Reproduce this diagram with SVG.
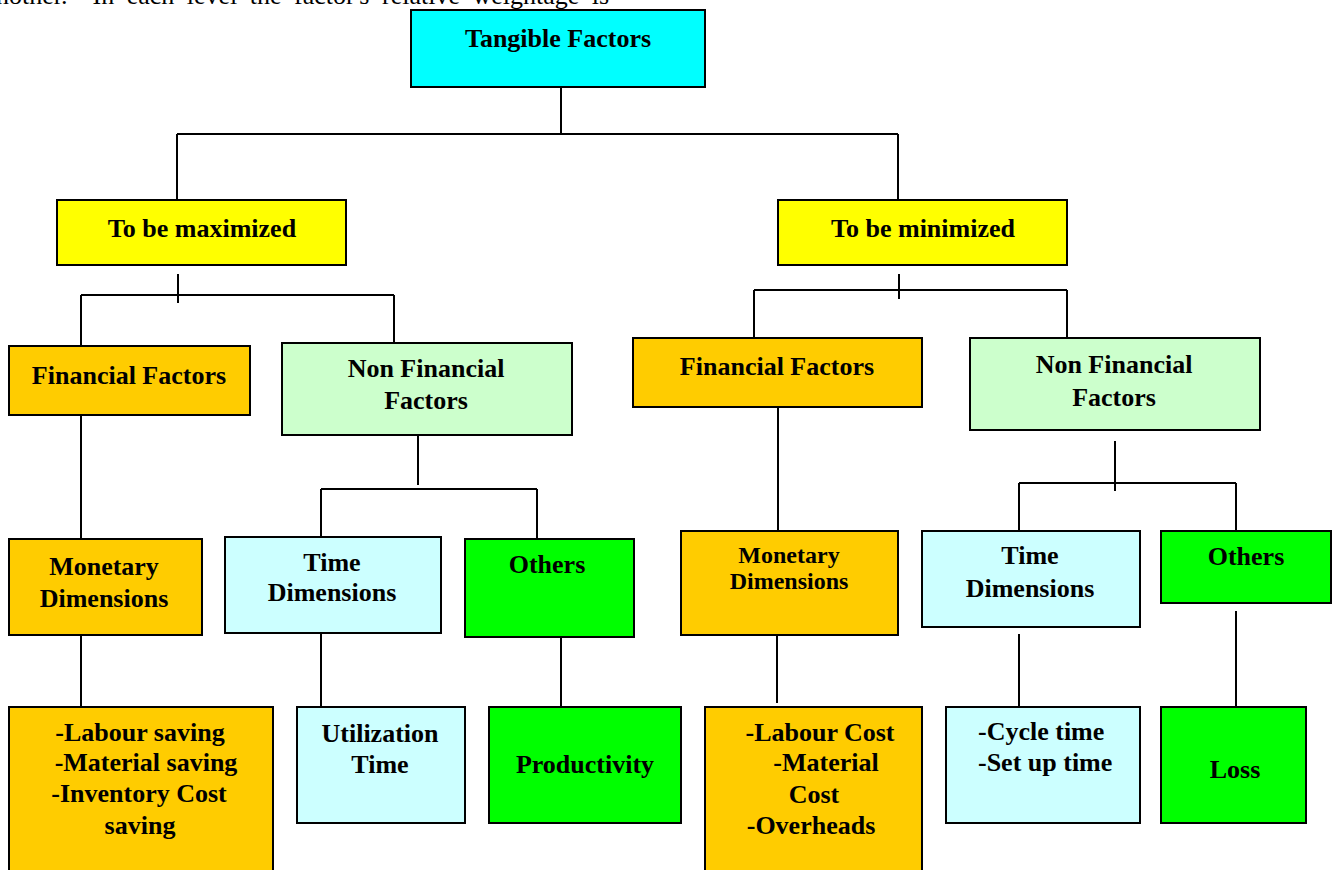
<svg xmlns="http://www.w3.org/2000/svg" width="1334" height="870" viewBox="0 0 1334 870">
<style>
.box{stroke:#000;stroke-width:2}
.t{font-family:"Liberation Serif","Times New Roman",serif;font-weight:bold;font-size:26px;fill:#000;text-anchor:middle}
.s{font-size:24px}
.l{text-anchor:start}
.cyan{fill:#00FFFF}.yel{fill:#FFFF00}.org{fill:#FFCC00}.lgr{fill:#CCFFCC}.lcy{fill:#CCFFFF}.grn{fill:#00FF00}
#connectors path{fill:none;stroke:#000;stroke-width:2}
</style>
<rect width="1334" height="870" fill="#fff"/>
<text x="-4" y="4" font-family="Liberation Serif, Times New Roman, serif" font-size="26" word-spacing="6" xml:space="preserve">nother.  In each level the factor's relative weightage is</text>
<g id="connectors">
<path d="M561,87V134M177,134H898M177,134V200M898,134V200"/>
<path d="M178,274V303M81,295H394M81,295V346M394,295V343"/>
<path d="M899,274V299M754,290H1067M754,290V338M1067,290V338"/>
<path d="M81,415V539M418,435V485M321,489H537M321,489V537M537,489V539"/>
<path d="M81,635V707M321,633V707M561,637V707"/>
<path d="M778,407V531M777,635V703"/>
<path d="M1115,441V491M1019,483H1236M1019,483V531M1236,483V531"/>
<path d="M1019,634V707M1236,611V707"/>
</g>
<g id="tangible"><rect class="box cyan" x="411" y="10" width="294" height="77"/><text class="t" x="558" y="47">Tangible Factors</text></g>
<g id="maximized"><rect class="box yel" x="57" y="200" width="289" height="65"/><text class="t" x="202" y="237">To be maximized</text></g>
<g id="minimized"><rect class="box yel" x="778" y="200" width="289" height="65"/><text class="t" x="923" y="237">To be minimized</text></g>
<g id="finL"><rect class="box org" x="9" y="346" width="241" height="69"/><text class="t" x="129" y="384">Financial Factors</text></g>
<g id="nfL"><rect class="box lgr" x="282" y="343" width="290" height="92"/><text class="t" x="426" y="377">Non Financial</text><text class="t" x="426" y="409">Factors</text></g>
<g id="finR"><rect class="box org" x="633" y="338" width="289" height="69"/><text class="t" x="777" y="375">Financial Factors</text></g>
<g id="nfR"><rect class="box lgr" x="970" y="338" width="290" height="92"/><text class="t" x="1114" y="373">Non Financial</text><text class="t" x="1114" y="406">Factors</text></g>
<g id="monL"><rect class="box org" x="9" y="539" width="193" height="96"/><text class="t" x="104" y="575">Monetary</text><text class="t" x="104" y="607">Dimensions</text></g>
<g id="timeL"><rect class="box lcy" x="225" y="537" width="216" height="96"/><text class="t" x="332" y="571">Time</text><text class="t" x="332" y="601">Dimensions</text></g>
<g id="othL"><rect class="box grn" x="465" y="539" width="169" height="98"/><text class="t" x="547" y="573">Others</text></g>
<g id="monR"><rect class="box org" x="681" y="531" width="217" height="104"/><text class="t s" x="789" y="563">Monetary</text><text class="t s" x="789" y="589">Dimensions</text></g>
<g id="timeR"><rect class="box lcy" x="922" y="531" width="218" height="96"/><text class="t" x="1030" y="564">Time</text><text class="t" x="1030" y="597">Dimensions</text></g>
<g id="othR"><rect class="box grn" x="1161" y="531" width="170" height="72"/><text class="t" x="1246" y="565">Others</text></g>
<g id="listL"><rect class="box org" x="9" y="707" width="264" height="170"/><text class="t" x="140" y="741">-Labour saving</text><text class="t" x="146" y="771">-Material saving</text><text class="t" x="139" y="802">-Inventory Cost</text><text class="t" x="140" y="834">saving</text></g>
<g id="util"><rect class="box lcy" x="297" y="707" width="168" height="116"/><text class="t" x="380" y="742">Utilization</text><text class="t" x="380" y="773">Time</text></g>
<g id="prod"><rect class="box grn" x="489" y="707" width="192" height="116"/><text class="t" x="585" y="773">Productivity</text></g>
<g id="listR"><rect class="box org" x="705" y="707" width="217" height="170"/><text class="t" x="820" y="741">-Labour Cost</text><text class="t" x="826" y="771">-Material</text><text class="t" x="814" y="803">Cost</text><text class="t" x="811" y="834">-Overheads</text></g>
<g id="cycle"><rect class="box lcy" x="946" y="707" width="194" height="116"/><text class="t l" x="978" y="740">-Cycle time</text><text class="t l" x="978" y="771">-Set up time</text></g>
<g id="loss"><rect class="box grn" x="1161" y="707" width="145" height="116"/><text class="t" x="1235" y="778">Loss</text></g>
</svg>
